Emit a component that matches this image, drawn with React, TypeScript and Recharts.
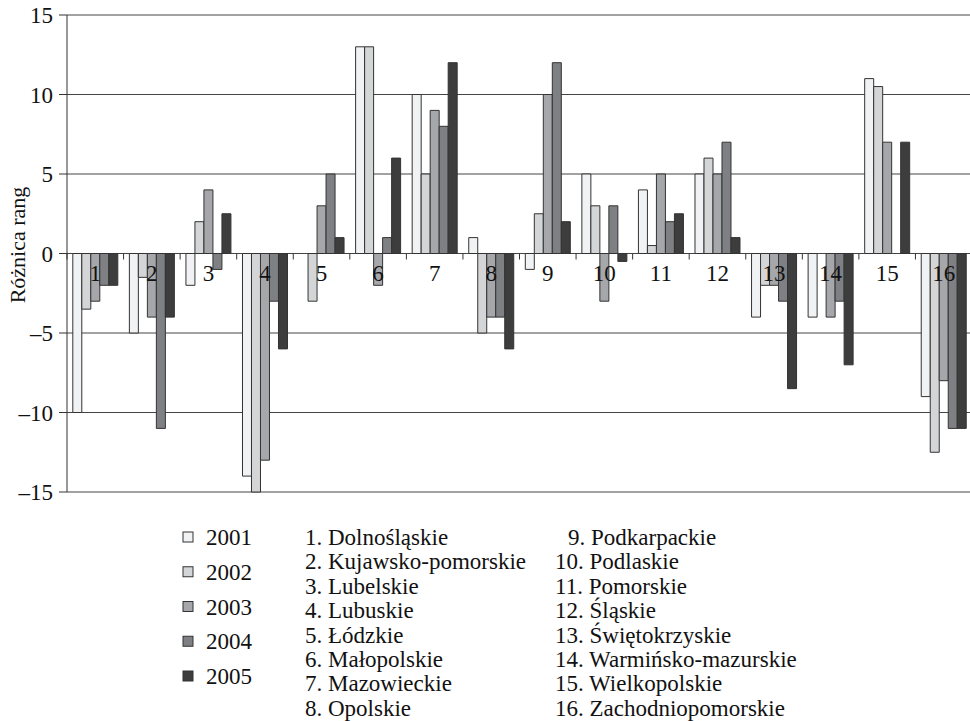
import React from "react";
import { BarChart, Bar, XAxis, YAxis, CartesianGrid } from "recharts";

const regions = ["1", "2", "3", "4", "5", "6", "7", "8", "9", "10", "11", "12", "13", "14", "15", "16"];

const regionNames = [
  "1. Dolnośląskie",
  "2. Kujawsko-pomorskie",
  "3. Lubelskie",
  "4. Lubuskie",
  "5. Łódzkie",
  "6. Małopolskie",
  "7. Mazowieckie",
  "8. Opolskie",
  "9. Podkarpackie",
  "10. Podlaskie",
  "11. Pomorskie",
  "12. Śląskie",
  "13. Świętokrzyskie",
  "14. Warmińsko-mazurskie",
  "15. Wielkopolskie",
  "16. Zachodniopomorskie",
];

const years = ["2001", "2002", "2003", "2004", "2005"];

const s2001 = [-10, -5, -2, -14, 0, 13, 10, 1, -1, 5, 4, 5, -4, -4, 11, -9];
const s2002 = [-3.5, -1.5, 2, -15, -3, 13, 5, -5, 2.5, 3, 0.5, 6, -2, 0, 10.5, -12.5];
const s2003 = [-3, -4, 4, -13, 3, -2, 9, -4, 10, -3, 5, 5, -2, -4, 7, -8];
const s2004 = [-2, -11, -1, -3, 5, 1, 8, -4, 12, 3, 2, 7, -3, -3, 0, -11];
const s2005 = [-2, -4, 2.5, -6, 1, 6, 12, -6, 2, -0.5, 2.5, 1, -8.5, -7, 7, -11];

const yTicks = [-15, -10, -5, 0, 5, 10, 15];

const fills = ["#f1f2f3", "#d4d5d7", "#a6a7aa", "#7f8083", "#3d3d3d"];
const FONT = "Liberation Serif, Times New Roman, serif";

const data = regions.map((r, i) => ({
  region: r,
  "2001": s2001[i],
  "2002": s2002[i],
  "2003": s2003[i],
  "2004": s2004[i],
  "2005": s2005[i],
}));

// plot geometry (used to place category labels on the zero line)
const TOP = 15;
const BOTTOM_MARGIN = 7;
const X_AXIS_H = 1;
const HEIGHT = 500;
const plotBottom = HEIGHT - BOTTOM_MARGIN - X_AXIS_H;
const zeroY = TOP + ((15 - 0) / 30) * (plotBottom - TOP);

function CategoryTick(props: any) {
  const { x, payload } = props;
  const half = payload && payload.offset ? payload.offset : 28.3;
  return (
    <g>
      <line x1={x - half} x2={x - half} y1={zeroY} y2={zeroY + 6} stroke="#333" strokeWidth={1} />
      <text x={x} y={zeroY + 27} textAnchor="middle" fontFamily={FONT} fontSize={23} fill="#111">
        {payload.value}
      </text>
    </g>
  );
}

const fmt = (v: number) => (v < 0 ? "\u2013" + Math.abs(v) : String(v));

export default function App() {
  return (
    <div
      style={{
        position: "relative",
        width: 970,
        height: 721,
        overflow: "hidden",
        background: "#fff",
        fontFamily: FONT,
      }}
    >
      <style>{"body{margin:0;overflow:hidden}"}</style>
      <div style={{ position: "absolute", left: 0, top: 0 }}>
        <BarChart
          width={975}
          height={HEIGHT}
          data={data}
          margin={{ top: TOP, right: 3, bottom: BOTTOM_MARGIN, left: 0 }}
          barCategoryGap={5.8}
          barGap={0}
        >
          <CartesianGrid vertical={false} stroke="#444" strokeWidth={1} />
          <XAxis
            dataKey="region"
            height={X_AXIS_H}
            axisLine={false}
            tickLine={false}
            interval={0}
            tick={CategoryTick}
          />
          <YAxis
            width={67}
            domain={[-15, 15]}
            ticks={yTicks}
            interval={0}
            tickFormatter={fmt}
            stroke="#333"
            tickSize={8}
            tickMargin={6}
            tick={{ fontFamily: FONT, fontSize: 23, fill: "#111" }}
          />
          {years.map((y, i) => (
            <Bar
              key={y}
              dataKey={y}
              fill={fills[i]}
              stroke="#333"
              strokeWidth={1}
              isAnimationActive={false}
            />
          ))}
        </BarChart>
      </div>
      <svg
        width={970}
        height={721}
        style={{ position: "absolute", left: 0, top: 0, pointerEvents: "none" }}
      >
        <text
          transform="translate(25,245) rotate(-90)"
          textAnchor="middle"
          fontFamily={FONT}
          fontSize={22}
          fill="#111"
        >
          Różnica rang
        </text>
        {years.map((y, i) => (
          <g key={y}>
            <rect x={183} y={532 + i * 34.75} width={10} height={10} fill={fills[i]} stroke="#333" strokeWidth={1} />
            <text x={206} y={545 + i * 34.75} fontFamily={FONT} fontSize={23} fill="#111">
              {y}
            </text>
          </g>
        ))}
        {regionNames.map((n, i) => {
          const col = i < 8 ? 0 : 1;
          const row = i % 8;
          const x = col === 0 ? 305 : i === 8 ? 568 : 555;
          return (
            <text key={n} x={x} y={545 + row * 24.4} fontFamily={FONT} fontSize={23} fill="#111">
              {n}
            </text>
          );
        })}
      </svg>
    </div>
  );
}
